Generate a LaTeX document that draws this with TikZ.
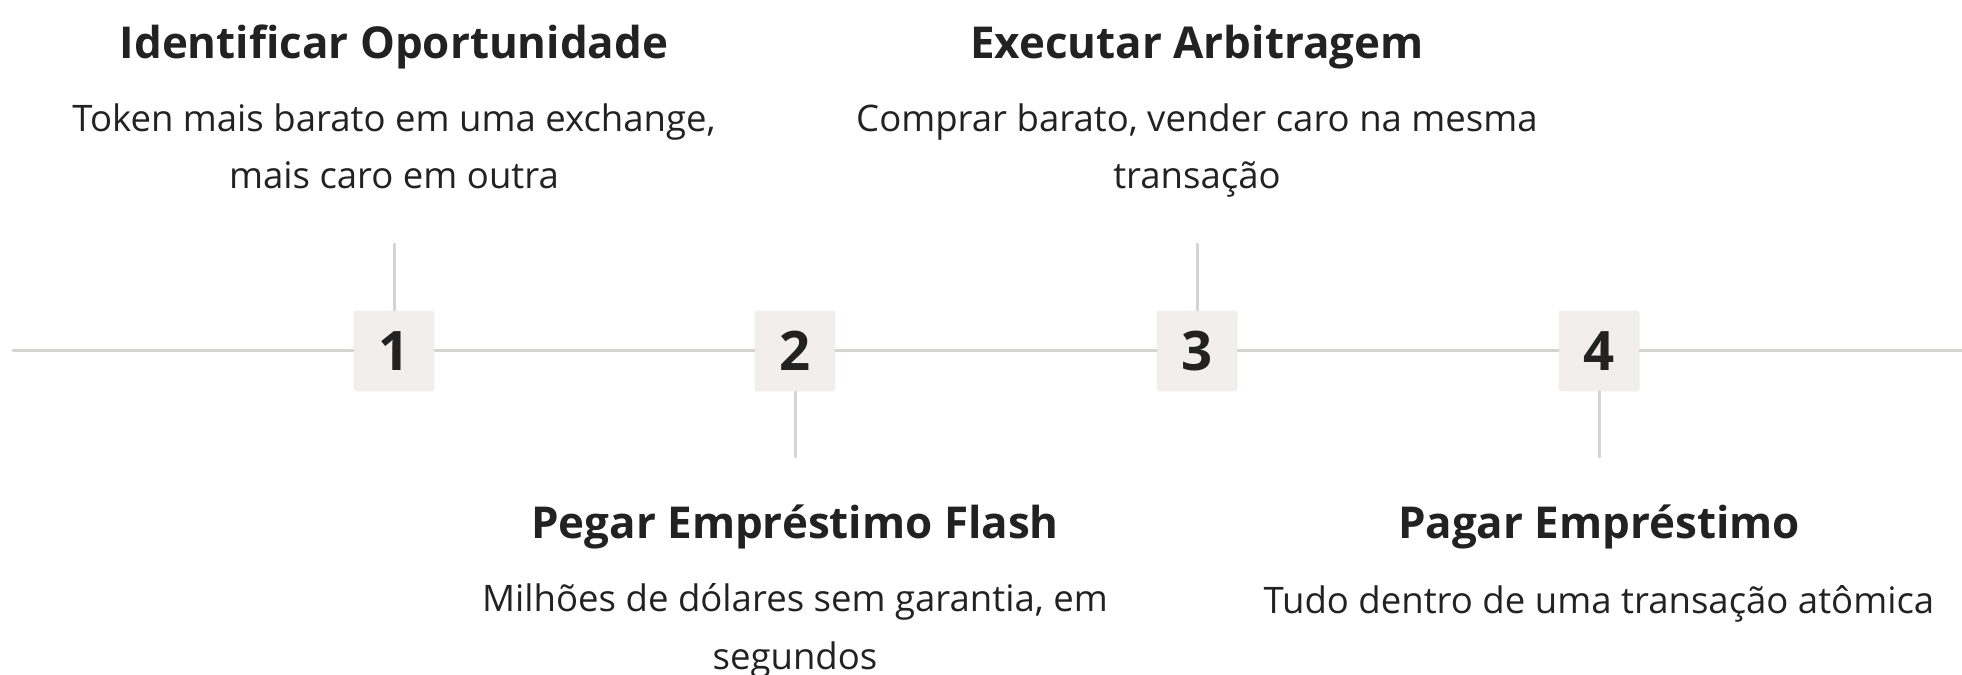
\documentclass[tikz,border=0pt]{standalone}
\usepackage{fontspec}
\setmainfont{Open Sans}
\definecolor{linegray}{HTML}{D6D3D3}
\definecolor{boxfill}{HTML}{F1EEED}
\definecolor{ink}{HTML}{232222}
\begin{document}
\begin{tikzpicture}[x=0.02cm,y=-0.02cm]
    \tikzstyle{stepnum}=[fill=boxfill, rounded corners=0.06cm, minimum size=1.62cm, inner sep=0pt, text=ink, font=\fontsize{31}{31}\selectfont\bfseries]
    \tikzstyle{title}=[anchor=base, inner sep=0pt, text=ink, font=\fontsize{25}{25}\selectfont\bfseries]
    \tikzstyle{desc}=[anchor=base, align=center, inner sep=0pt, text=ink, font=\fontsize{20.8}{32.7}\selectfont]
    \tikzstyle{rule}=[draw=linegray, line width=0.06cm, line cap=round]
    \useasboundingbox (0,0) rectangle (1962,675);
    \clip (0,0) rectangle (1962,675);
    \node[stepnum] (s1) at (394,351) {1};
    \node[stepnum] (s2) at (795,351) {2};
    \node[stepnum] (s3) at (1197,351) {3};
    \node[stepnum] (s4) at (1599,351) {4};
    \coordinate (left) at (13,351);
    \coordinate (right) at (1970,351);
    \coordinate (u1) at (394,244);
    \coordinate (l2) at (795,457);
    \coordinate (u3) at (1197,244);
    \coordinate (l4) at (1599,457);
    \draw[rule] (left)--(s1)--(s2)--(s3)--(s4)--(right);
    \draw[rule] (s1)--(u1);
    \draw[rule] (s2)--(l2);
    \draw[rule] (s3)--(u3);
    \draw[rule] (s4)--(l4);
    % titles and texts; base of a two-line text is its last line
    \node[title] (t1) at (394,59) {Identificar Oportunidade};
    \node[desc] (d1) at (394,189) {Token mais barato em uma exchange,\\mais caro em outra};
    \node[title] (t3) at (1197,59) {Executar Arbitragem};
    \node[desc] (d3) at (1197,189) {Comprar barato, vender caro na mesma\\transação};
    \node[title] (t2) at (795,539) {Pegar Empréstimo Flash};
    \node[desc] (d2) at (795,669) {Milhões de dólares sem garantia, em\\segundos};
    \node[title] (t4) at (1599,539) {Pagar Empréstimo};
    \node[desc] (d4) at (1599,613) {Tudo dentro de uma transação atômica};
\end{tikzpicture}
\end{document}
